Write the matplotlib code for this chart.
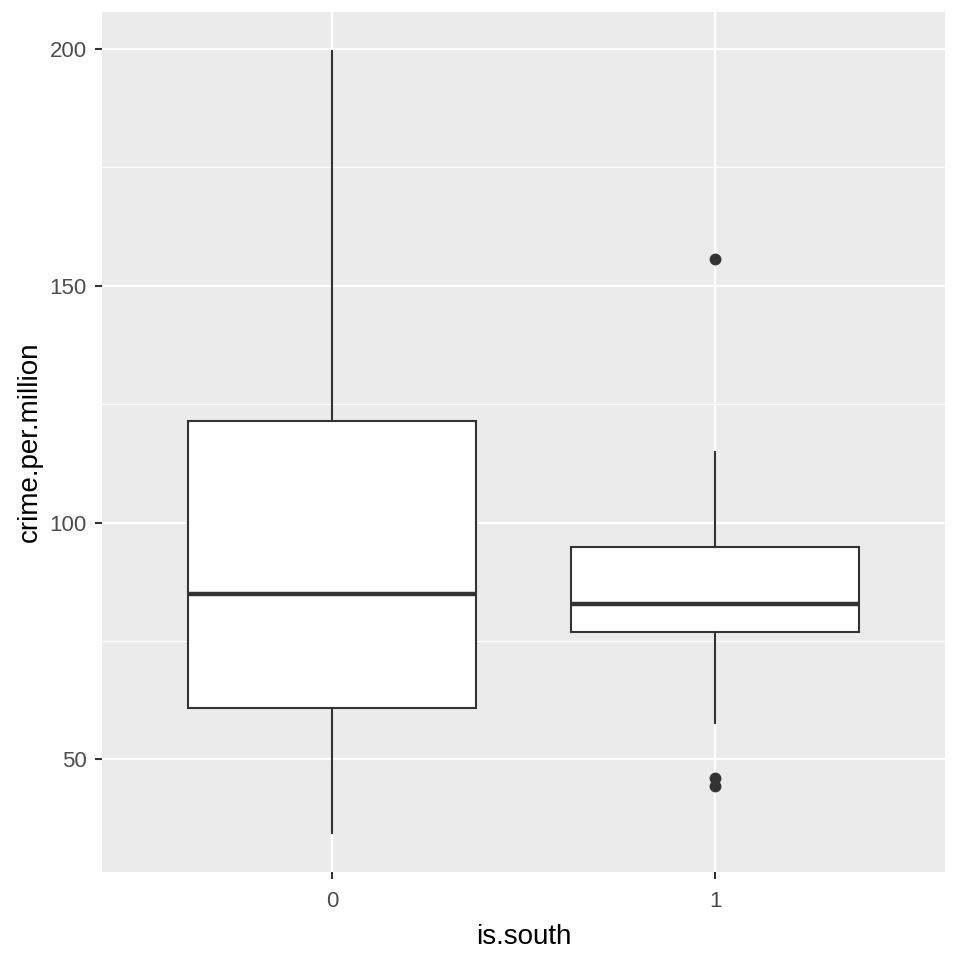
import numpy as np
import matplotlib
matplotlib.use("Agg")
import matplotlib.pyplot as plt

plt.rcParams['font.family'] = ['Liberation Sans', 'DejaVu Sans']

# summary stats (crime.per.million by is.south)
groups = ["0", "1"]
whisker_low = [34.5, 57.8]
q1 = [60.9, 76.8]
median = [85.0, 82.9]
q3 = [121.5, 94.9]
whisker_high = [199.5, 114.9]
outliers = [[], [155.6, 46.0, 44.3]]

stats = []
for i, g in enumerate(groups):
    stats.append({
        "label": g,
        "whislo": whisker_low[i],
        "q1": q1[i],
        "med": median[i],
        "q3": q3[i],
        "whishi": whisker_high[i],
        "fliers": outliers[i],
    })

fig = plt.figure(figsize=(9.6, 9.6), dpi=100)
ax = fig.add_axes([102 / 960, 88 / 960, 843 / 960, 860 / 960])
ax.set_facecolor("#EBEBEB")

dark = "#333333"
ax.bxp(stats, positions=[1, 2], widths=0.75, patch_artist=True,
       showcaps=False,
       boxprops=dict(facecolor="white", edgecolor=dark, linewidth=1.5),
       medianprops=dict(color=dark, linewidth=3.2, solid_capstyle="butt"),
       whiskerprops=dict(color=dark, linewidth=1.5),
       flierprops=dict(marker="o", markerfacecolor=dark, markeredgecolor=dark,
                       markersize=7.5, linestyle="none"),
       zorder=3)

ax.set_xlim(0.4, 2.6)
ax.set_ylim(26.25, 207.75)
ax.set_xticks([1, 2])
ax.set_xticklabels(groups)
ax.set_yticks([50, 100, 150, 200])
ax.set_yticks([75, 125, 175], minor=True)

ax.grid(which="major", color="white", linewidth=1.6, zorder=0)
ax.grid(which="minor", axis="y", color="white", linewidth=0.8, zorder=0)
ax.set_axisbelow(True)

for s in ax.spines.values():
    s.set_visible(False)

ax.tick_params(axis="both", which="major", length=5, width=1.5, color=dark,
               labelsize=16, labelcolor="#4D4D4D")
ax.tick_params(axis="x", which="major", pad=9)
ax.tick_params(axis="y", which="major", pad=6)
ax.tick_params(axis="both", which="minor", length=0)

ax.set_xlabel("is.south", fontsize=20, color="black", labelpad=8)
ax.set_ylabel("crime.per.million", fontsize=20, color="black", labelpad=5)

fig.savefig("out.png", dpi=100, facecolor="white")
